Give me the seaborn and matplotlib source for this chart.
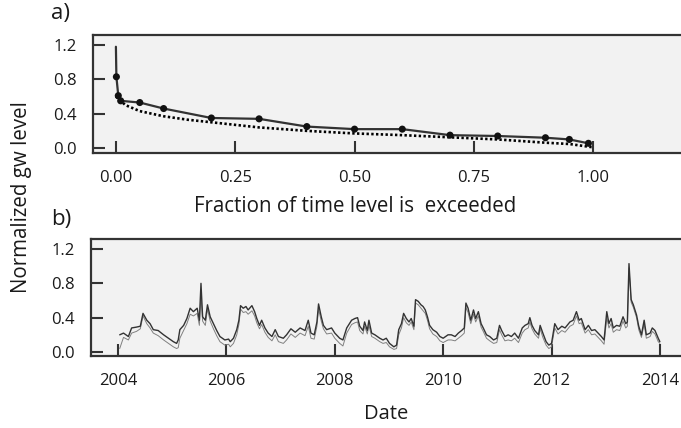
import matplotlib
matplotlib.use("Agg")
import matplotlib.pyplot as plt
import seaborn as sns
import numpy as np

# ---------------- data ----------------
# panel a: exceedance curve (solid with markers)
frac_obs = [0.0, 0.001, 0.005, 0.01, 0.05, 0.10, 0.20, 0.30, 0.40, 0.50,
            0.60, 0.70, 0.80, 0.90, 0.95, 0.99]
level_obs = [1.18, 0.83, 0.61, 0.55, 0.53, 0.46, 0.35, 0.34, 0.25, 0.22,
             0.22, 0.15, 0.14, 0.12, 0.10, 0.055]
# panel a: dotted curve
frac_sim = [0.0, 0.01, 0.02, 0.05, 0.10, 0.15, 0.20, 0.30, 0.40, 0.50,
            0.60, 0.70, 0.80, 0.90, 0.95, 1.00]
level_sim = [0.60, 0.55, 0.50, 0.43, 0.37, 0.33, 0.30, 0.24, 0.20, 0.17,
             0.15, 0.125, 0.10, 0.062, 0.047, 0.008]

# panel b: time series (decimal years)
years = [2004.03, 2004.10, 2004.19, 2004.25, 2004.34, 2004.41, 2004.46, 2004.53, 2004.59, 2004.65,
         2004.74, 2004.84, 2004.93, 2005.02, 2005.08, 2005.11, 2005.14, 2005.21, 2005.27, 2005.33,
         2005.39, 2005.46, 2005.50, 2005.53, 2005.56, 2005.61, 2005.65, 2005.70, 2005.76, 2005.82,
         2005.88, 2005.97, 2006.04, 2006.07, 2006.13, 2006.19, 2006.23, 2006.26, 2006.31, 2006.36,
         2006.40, 2006.47, 2006.52, 2006.56, 2006.61, 2006.65, 2006.71, 2006.77, 2006.84, 2006.90,
         2006.96, 2007.05, 2007.11, 2007.19, 2007.27, 2007.36, 2007.45, 2007.51, 2007.56, 2007.62,
         2007.67, 2007.70, 2007.75, 2007.79, 2007.85, 2007.94, 2008.00, 2008.09, 2008.15, 2008.22,
         2008.31, 2008.37, 2008.42, 2008.46, 2008.52, 2008.55, 2008.60, 2008.63, 2008.68, 2008.74,
         2008.83, 2008.89, 2008.95, 2009.01, 2009.09, 2009.14, 2009.18, 2009.23, 2009.27, 2009.32,
         2009.37, 2009.41, 2009.46, 2009.49, 2009.54, 2009.59, 2009.63, 2009.67, 2009.71, 2009.75,
         2009.81, 2009.88, 2009.94, 2010.00, 2010.09, 2010.15, 2010.22, 2010.28, 2010.34, 2010.39,
         2010.42, 2010.46, 2010.51, 2010.56, 2010.60, 2010.65, 2010.70, 2010.74, 2010.80, 2010.86,
         2010.93, 2010.99, 2011.04, 2011.08, 2011.14, 2011.20, 2011.26, 2011.32, 2011.39, 2011.46,
         2011.51, 2011.57, 2011.60, 2011.64, 2011.69, 2011.76, 2011.79, 2011.84, 2011.90, 2011.95,
         2012.00, 2012.06, 2012.12, 2012.19, 2012.25, 2012.34, 2012.40, 2012.46, 2012.51, 2012.55,
         2012.62, 2012.68, 2012.74, 2012.80, 2012.86, 2012.92, 2012.97, 2013.02, 2013.06, 2013.10,
         2013.14, 2013.20, 2013.26, 2013.32, 2013.37, 2013.40, 2013.43, 2013.47, 2013.51, 2013.57,
         2013.61, 2013.66, 2013.71, 2013.75, 2013.82, 2013.86, 2013.91, 2013.97, 2014.00]
level_dark = [0.20, 0.22, 0.18, 0.28, 0.29, 0.30, 0.45, 0.37, 0.33, 0.26,
              0.25, 0.20, 0.16, 0.12, 0.10, 0.14, 0.26, 0.31, 0.39, 0.51,
              0.47, 0.51, 0.37, 0.80, 0.41, 0.37, 0.55, 0.41, 0.33, 0.25,
              0.18, 0.14, 0.15, 0.12, 0.16, 0.26, 0.37, 0.54, 0.51, 0.53,
              0.49, 0.54, 0.47, 0.39, 0.31, 0.37, 0.28, 0.22, 0.18, 0.26,
              0.18, 0.16, 0.20, 0.27, 0.23, 0.28, 0.25, 0.37, 0.22, 0.20,
              0.35, 0.56, 0.41, 0.31, 0.26, 0.28, 0.22, 0.16, 0.14, 0.28,
              0.37, 0.39, 0.40, 0.30, 0.25, 0.35, 0.25, 0.37, 0.22, 0.20,
              0.16, 0.14, 0.16, 0.10, 0.06, 0.08, 0.26, 0.33, 0.45, 0.39,
              0.35, 0.39, 0.30, 0.61, 0.59, 0.55, 0.53, 0.49, 0.41, 0.31,
              0.26, 0.23, 0.18, 0.16, 0.20, 0.20, 0.18, 0.22, 0.25, 0.28,
              0.57, 0.51, 0.37, 0.49, 0.39, 0.47, 0.33, 0.28, 0.20, 0.18,
              0.14, 0.16, 0.31, 0.25, 0.18, 0.20, 0.18, 0.22, 0.16, 0.28,
              0.31, 0.33, 0.40, 0.31, 0.25, 0.20, 0.31, 0.22, 0.12, 0.08,
              0.10, 0.33, 0.26, 0.30, 0.28, 0.35, 0.37, 0.47, 0.37, 0.39,
              0.26, 0.31, 0.25, 0.26, 0.22, 0.18, 0.14, 0.47, 0.33, 0.39,
              0.28, 0.31, 0.30, 0.41, 0.33, 0.35, 1.03, 0.61, 0.55, 0.43,
              0.30, 0.20, 0.37, 0.20, 0.22, 0.28, 0.25, 0.16, 0.12]
level_light = [0.04, 0.17, 0.14, 0.22, 0.24, 0.27, 0.42, 0.33, 0.28, 0.22,
               0.19, 0.14, 0.10, 0.06, 0.04, 0.05, 0.16, 0.25, 0.33, 0.44,
               0.42, 0.45, 0.31, 0.66, 0.36, 0.31, 0.50, 0.36, 0.27, 0.19,
               0.12, 0.08, 0.09, 0.06, 0.10, 0.20, 0.32, 0.50, 0.46, 0.47,
               0.44, 0.48, 0.42, 0.34, 0.27, 0.32, 0.23, 0.17, 0.13, 0.20,
               0.12, 0.10, 0.14, 0.21, 0.17, 0.22, 0.19, 0.30, 0.16, 0.15,
               0.30, 0.50, 0.36, 0.27, 0.21, 0.22, 0.16, 0.10, 0.07, 0.22,
               0.32, 0.34, 0.35, 0.25, 0.21, 0.30, 0.21, 0.31, 0.18, 0.16,
               0.12, 0.10, 0.11, 0.06, 0.03, 0.04, 0.20, 0.28, 0.40, 0.34,
               0.31, 0.35, 0.26, 0.57, 0.55, 0.51, 0.48, 0.45, 0.37, 0.27,
               0.21, 0.18, 0.13, 0.11, 0.14, 0.14, 0.13, 0.16, 0.19, 0.22,
               0.52, 0.46, 0.33, 0.44, 0.35, 0.42, 0.29, 0.24, 0.16, 0.13,
               0.10, 0.11, 0.26, 0.20, 0.13, 0.14, 0.13, 0.16, 0.11, 0.22,
               0.26, 0.28, 0.35, 0.27, 0.21, 0.16, 0.27, 0.17, 0.08, 0.04,
               0.06, 0.28, 0.21, 0.25, 0.23, 0.30, 0.32, 0.42, 0.33, 0.34,
               0.22, 0.26, 0.20, 0.21, 0.17, 0.13, 0.09, 0.40, 0.28, 0.33,
               0.23, 0.26, 0.25, 0.36, 0.28, 0.30, 0.98, 0.58, 0.52, 0.40,
               0.26, 0.17, 0.33, 0.16, 0.18, 0.24, 0.21, 0.12, 0.10]

xticks_a = [0.0, 0.25, 0.5, 0.75, 1.0]
xtick_labels_a = ["0.00", "0.25", "0.50", "0.75", "1.00"]
yticks = [0.0, 0.4, 0.8, 1.2]
ytick_labels = ["0.0", "0.4", "0.8", "1.2"]
xticks_b = [2004, 2006, 2008, 2010, 2012, 2014]
xtick_labels_b = ["2004", "2006", "2008", "2010", "2012", "2014"]

# ---------------- style ----------------
sns.set_theme(style="ticks")
plt.rcParams["font.family"] = ["Open Sans", "DejaVu Sans"]

W, H = 681, 428
fig = plt.figure(figsize=(W / 100, H / 100), dpi=100)
ax1 = fig.add_axes([93 / W, 1 - 153 / H, 1 - 93 / W, (153 - 35) / H])
ax2 = fig.add_axes([91 / W, 1 - 356 / H, 1 - 91 / W, (356 - 239) / H])

dark = "#333333"
txt = "#1a1a1a"
for ax in (ax1, ax2):
    ax.set_facecolor("#f2f2f2")
    ax.spines["right"].set_visible(False)
    for s in ("left", "top", "bottom"):
        ax.spines[s].set_color(dark)
        ax.spines[s].set_linewidth(1.6)
    ax.tick_params(direction="in", length=8.5, width=1.5, color=dark,
                   labelsize=12, labelcolor=txt, pad=12)
    ax.tick_params(axis="x", top=False)
    ax.tick_params(axis="y", right=False)

# panel a
sns.lineplot(x=frac_sim, y=level_sim, ax=ax1, color="black", lw=1.9,
             dashes=False, sort=False, estimator=None)
ax1.lines[-1].set_dashes((0.9, 0.9))
sns.lineplot(x=frac_obs, y=level_obs, ax=ax1, color=dark, lw=1.6,
             sort=False, estimator=None)
sns.scatterplot(x=frac_obs[1:], y=level_obs[1:], ax=ax1, color="#111111",
                s=26, edgecolor="none", zorder=5)
ax1.set_xlim(-0.048, 1.184)
ax1.set_ylim(-0.058, 1.317)
ax1.set_xticks(xticks_a)
ax1.set_xticklabels(xtick_labels_a)
ax1.set_yticks(yticks)
ax1.set_yticklabels(ytick_labels)
ax1.set_xlabel("")
ax1.set_ylabel("")

# panel b
sns.lineplot(x=years, y=level_light, ax=ax2, color="#808080", lw=0.7,
             sort=False, estimator=None)
sns.lineplot(x=years, y=level_dark, ax=ax2, color=dark, lw=1.0,
             sort=False, estimator=None)
ax2.set_xlim(2003.50, 2014.39)
ax2.set_ylim(-0.047, 1.317)
ax2.set_xticks(xticks_b)
ax2.set_xticklabels(xtick_labels_b)
ax2.set_yticks(yticks)
ax2.set_yticklabels(ytick_labels)
ax2.set_ylabel("")
ax2.set_xlabel("Date", fontsize=14.5, color=txt, labelpad=11)

# texts
fig.text(355 / W, 1 - 207 / H, "Fraction of time level is  exceeded",
         ha="center", va="center", fontsize=14.8, color=txt)
fig.text(22 / W, 1 - 197 / H, "Normalized gw level", rotation=90,
         ha="center", va="center", fontsize=14.8, color=txt)
fig.text(51 / W, 1 - 14 / H, "a)", ha="left", va="center", fontsize=16, color=txt)
fig.text(51 / W, 1 - 219 / H, "b)", ha="left", va="center", fontsize=16, color=txt)

fig.savefig("out.png", dpi=100)
